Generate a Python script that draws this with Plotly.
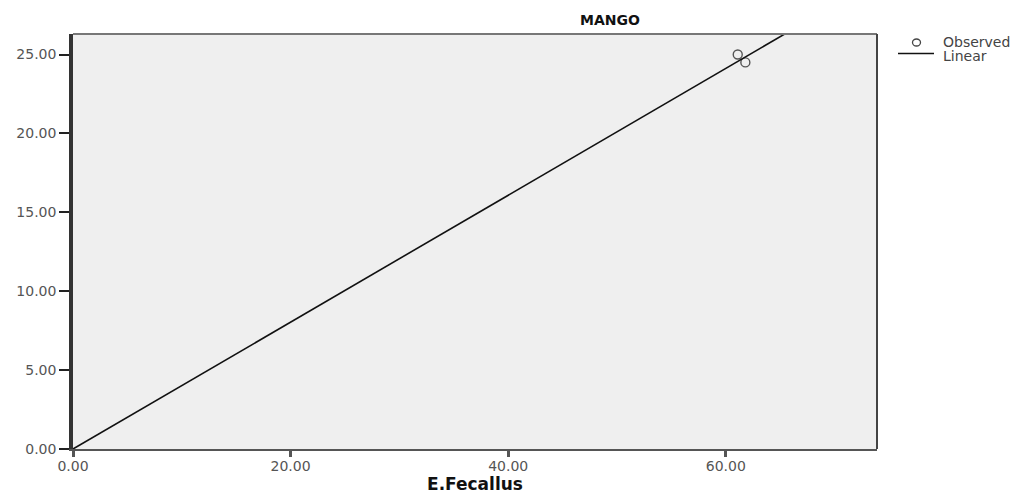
import plotly.graph_objects as go

# Data
observed_x = [61.1, 61.8]
observed_y = [25.0, 24.5]
linear_slope = 0.402
linear_intercept = 0.0
line_x = [0.0, 73.9]
line_y = [linear_intercept + linear_slope * v for v in line_x]
x_ticks = [0, 20, 40, 60]
y_ticks = [0, 5, 10, 15, 20, 25]
legend_labels = ["Observed", "Linear"]

FONT = "DejaVu Sans, Arial, sans-serif"
OFF = 8  # default page body margin
W, H = 1034 - OFF, 497 - OFF
# plot-area edges measured on the reference (page pixels)
L, R, T, B = 73, 877, 34, 449


def px(xp):
    return (xp - L) / (R - L)


def py(yp):
    return (B - yp) / (B - T)


fig = go.Figure()
fig.add_trace(go.Scatter(
    x=observed_x, y=observed_y, mode="markers", name=legend_labels[0],
    marker=dict(symbol="circle-open", size=9, color="#555", line=dict(width=1.4, color="#555")),
    cliponaxis=False, showlegend=False,
))
fig.add_trace(go.Scatter(
    x=line_x, y=line_y, mode="lines", name=legend_labels[1],
    line=dict(color="#111", width=1.6), showlegend=False,
))

shapes = [
    dict(type="line", xref="paper", yref="paper", x0=0, x1=1, y0=1, y1=1,
         line=dict(color="#777", width=2)),
    dict(type="line", xref="paper", yref="paper", x0=1, x1=1, y0=0, y1=1,
         line=dict(color="#444", width=2)),
    # compact legend glyphs
    dict(type="circle", xref="paper", yref="paper",
         x0=px(912.5), x1=px(920.5), y0=py(46), y1=py(39),
         line=dict(color="#444", width=1.3), fillcolor="rgba(0,0,0,0)"),
    dict(type="line", xref="paper", yref="paper", x0=px(898), x1=px(934), y0=py(53.5), y1=py(53.5),
         line=dict(color="#111", width=1.4)),
]
annotations = [
    dict(text=legend_labels[0], xref="paper", yref="paper", x=px(941), y=py(42.5),
         xanchor="left", yanchor="middle", showarrow=False,
         font=dict(family=FONT, size=14, color="#444")),
    dict(text=legend_labels[1], xref="paper", yref="paper", x=px(941), y=py(55.5),
         xanchor="left", yanchor="middle", showarrow=False,
         font=dict(family=FONT, size=14, color="#444")),
]

fig.update_layout(
    width=W, height=H,
    margin=dict(l=L - OFF, r=1034 - R, t=T - OFF, b=497 - B, autoexpand=False),
    paper_bgcolor="white",
    plot_bgcolor="#efefef",
    title=dict(text="<b>MANGO</b>", x=(610 - OFF) / W, xanchor="center", y=1 - (20 - OFF) / H,
               yanchor="middle", font=dict(family=FONT, size=14, color="#111")),
    font=dict(family=FONT, size=14, color="#555"),
    showlegend=False,
    xaxis=dict(
        range=[0, 73.9], tickvals=x_ticks, ticktext=[f"{v:.2f}" for v in x_ticks],
        showgrid=False, zeroline=False, showline=True, linecolor="#555", linewidth=2,
        ticks="outside", ticklen=6, tickwidth=2.5, tickcolor="#555", automargin=False,
        ticklabelstandoff=-3,
        title=dict(text="<b>E.Fecallus</b>", font=dict(family=FONT, size=17, color="#111"), standoff=4),
        tickfont=dict(family=FONT, size=14, color="#555"),
    ),
    yaxis=dict(
        range=[0, 26.3], tickvals=y_ticks, ticktext=[f"{v:.2f}" for v in y_ticks],
        showgrid=False, zeroline=False, showline=True, linecolor="#333", linewidth=3.5,
        ticks="outside", ticklen=10, tickwidth=1.8, tickcolor="#222", automargin=False,
        tickfont=dict(family=FONT, size=14, color="#555"),
    ),
    shapes=shapes,
    annotations=annotations,
)

fig.write_html("out.html")
